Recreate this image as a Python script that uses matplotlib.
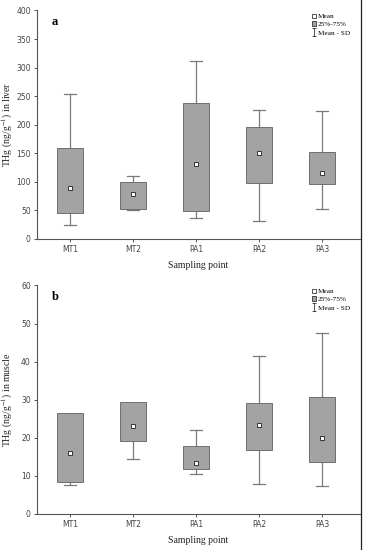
import matplotlib
matplotlib.use("Agg")
import matplotlib.pyplot as plt
from matplotlib.lines import Line2D
from matplotlib.patches import Patch
from matplotlib.path import Path
import numpy as np

plt.rcParams["mathtext.fontset"] = "stix"

sites = ["MT1", "MT2", "PA1", "PA2", "PA3"]

# panel a : liver
liver_low = [24, 50, 37, 32, 53]
liver_q1 = [45, 53, 49, 98, 97]
liver_mean = [89, 79, 132, 151, 116]
liver_q3 = [160, 100, 238, 196, 153]
liver_high = [254, 110, 312, 225, 224]

# panel b : muscle
muscle_low = [7.5, 14.5, 10.6, 8.0, 7.3]
muscle_q1 = [8.5, 19.2, 11.7, 16.8, 13.6]
muscle_mean = [16.0, 23.2, 13.5, 23.3, 20.0]
muscle_q3 = [26.5, 29.5, 17.8, 29.2, 30.7]
muscle_high = [26.5, 29.5, 22.1, 41.5, 47.4]

box_fc = "#a3a3a3"
box_ec = "#6e6e6e"
wcol = "#7a7a7a"
tick_col = "#444444"
serif = ["Liberation Serif", "DejaVu Serif"]

# thin "I" marker for the whisker legend entry
whisker_marker = Path([(-0.4, 1), (0.4, 1), (0, 1), (0, -1), (-0.4, -1), (0.4, -1)],
                      [Path.MOVETO, Path.LINETO, Path.MOVETO, Path.LINETO,
                       Path.MOVETO, Path.LINETO])


def draw_panel(ax, low, q1, mean, q3, high, ymax, step, letter, ylabel):
    x = np.arange(len(sites))
    w = 0.42
    cap = 0.1
    for i in x:
        # whiskers
        ax.plot([i, i], [high[i], q3[i]], color=wcol, lw=0.9, zorder=1)
        ax.plot([i, i], [low[i], q1[i]], color=wcol, lw=0.9, zorder=1)
        if high[i] > q3[i]:
            ax.plot([i - cap, i + cap], [high[i], high[i]], color=wcol, lw=0.9, zorder=1)
        if low[i] < q1[i]:
            ax.plot([i - cap, i + cap], [low[i], low[i]], color=wcol, lw=0.9, zorder=1)
    ax.bar(x, np.array(q3) - np.array(q1), bottom=q1, width=w,
           color=box_fc, edgecolor=box_ec, linewidth=0.7, zorder=2)
    ax.plot(x, mean, ls="none", marker="s", ms=3.2, mfc="white", mec="#333333",
            mew=0.7, zorder=3)

    ax.set_xlim(-0.52, 4.6)
    ax.set_ylim(0, ymax)
    ax.set_yticks(np.arange(0, ymax + 1, step))
    ax.set_xticks(x)
    ax.set_xticklabels(sites)
    for s in ["top", "right"]:
        ax.spines[s].set_visible(False)
    for s in ["left", "bottom"]:
        ax.spines[s].set_color("#555555")
        ax.spines[s].set_linewidth(0.8)
    ax.tick_params(direction="out", length=2.5, width=0.7, color="#555555",
                   labelsize=5.5, labelcolor=tick_col, pad=2)
    ax.set_xlabel("Sampling point", fontsize=7, family=serif, color="#222222", labelpad=5)
    ax.set_ylabel(ylabel, fontsize=7, family=serif, color="#222222")
    ax.yaxis.set_label_coords(-0.068, 0.5)
    ax.text(0.045, 0.975, letter, transform=ax.transAxes, fontsize=9,
            fontweight="bold", family=serif, va="top", ha="left")

    handles = [
        Line2D([], [], ls="none", marker="s", ms=3.5, mfc="white", mec="#333333", mew=0.6),
        Patch(facecolor=box_fc, edgecolor="#333333", linewidth=0.6),
        Line2D([], [], ls="none", color="#333333", marker=whisker_marker, ms=6,
               mew=0.6, mfc="none", mec="#333333"),
    ]
    ax.legend(handles, ["Mean", "25%-75%", "Mean - SD"], loc="upper right",
              bbox_to_anchor=(0.985, 1.01), frameon=False,
              prop={"family": serif, "size": 5.2}, handlelength=0.6,
              handletextpad=0.3, labelspacing=0.3, borderpad=0.2)


fig = plt.figure(figsize=(3.67, 5.5), dpi=100)
ax1 = fig.add_axes([0.101, 0.5655, 0.88, 0.4155])
ax2 = fig.add_axes([0.101, 0.0655, 0.88, 0.4155])

draw_panel(ax1, liver_low, liver_q1, liver_mean, liver_q3, liver_high,
           400, 50, "a", r"THg (ng/g$^{-1}$) in liver")
draw_panel(ax2, muscle_low, muscle_q1, muscle_mean, muscle_q3, muscle_high,
           60, 10, "b", r"THg (ng/g$^{-1}$) in muscle")

# border line on the right side of the figure
fig.add_artist(Line2D([0.984, 0.984], [0.0, 1.0], color="#222222", lw=0.9,
                      transform=fig.transFigure))

fig.savefig("out.png", dpi=100)
